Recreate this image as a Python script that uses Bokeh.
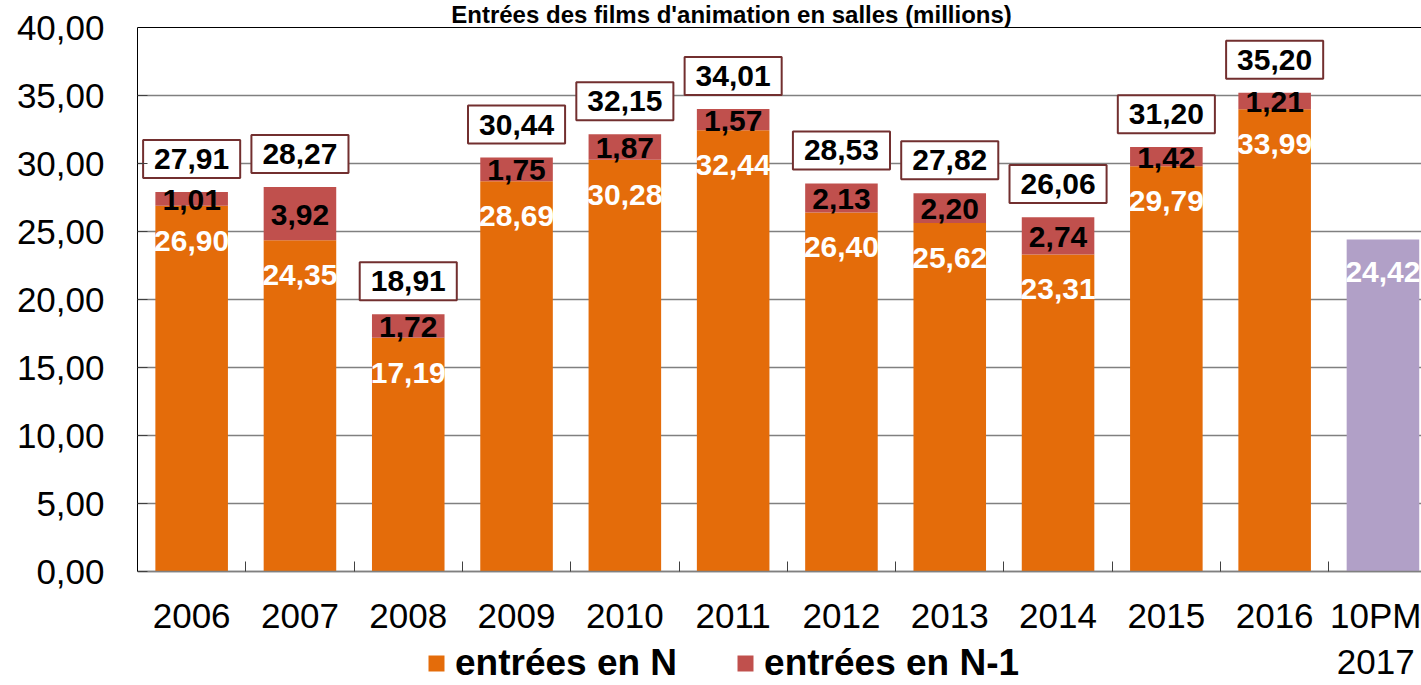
from bokeh.plotting import figure
from bokeh.models import (ColumnDataSource, Range1d, FixedTicker, CustomJSTickFormatter,
                          Label, Legend, LegendItem, Span)
from bokeh.embed import file_html
from bokeh.resources import INLINE
from bokeh.core.properties import value

# ---- data ----
categories = ["2006", "2007", "2008", "2009", "2010", "2011", "2012", "2013",
              "2014", "2015", "2016", "10PM\n2017"]
entrees_n = [26.90, 24.35, 17.19, 28.69, 30.28, 32.44, 26.40, 25.62, 23.31, 29.79, 33.99]
entrees_n1 = [1.01, 3.92, 1.72, 1.75, 1.87, 1.57, 2.13, 2.20, 2.74, 1.42, 1.21]
totals = [27.91, 28.27, 18.91, 30.44, 32.15, 34.01, 28.53, 27.82, 26.06, 31.20, 35.20]
partial_2017 = [24.42]
title_text = "Entrées des films d'animation en salles (millions)"
legend_labels = ["entrées en N", "entrées en N-1"]
y_ticks = [0, 5, 10, 15, 20, 25, 30, 35, 40]
y_max = 40

ORANGE = "#E46C0A"
RED = "#C0504D"
PURPLE = "#B1A0C7"
BOX = "#722F2F"
FONT = "Liberation Sans"

# layout (pixels)
W, H = 1421, 685
LEFT, TOP_GAP, BOTTOM_GAP = 137, 27, 114   # edges of the value area
CAT_PX = 108.3


def fr(v):
    return f"{v:.2f}".replace(".", ",")


n_cat = len(categories)
xs = [i + 0.5 for i in range(n_cat)]
full_x = xs[:len(entrees_n)]

src = ColumnDataSource(dict(
    x=full_x,
    n=entrees_n,
    n1=entrees_n1,
    tot=totals,
    mid=[a + b / 2 for a, b in zip(entrees_n, entrees_n1)],
    n_lab=[fr(v) for v in entrees_n],
    n1_lab=[fr(v) for v in entrees_n1],
    tot_lab=[fr(v) for v in totals],
))
src17 = ColumnDataSource(dict(x=xs[len(entrees_n):], v=partial_2017,
                              lab=[fr(v) for v in partial_2017]))

px_per_unit = (H - TOP_GAP - BOTTOM_GAP) / y_max
y_range = Range1d(-BOTTOM_GAP / px_per_unit, y_max + TOP_GAP / px_per_unit)
x_range = Range1d(0, (W - LEFT) / CAT_PX)

p = figure(width=W, height=H, output_backend="svg", toolbar_location=None, title=None,
           x_range=x_range, y_range=y_range,
           min_border_left=LEFT, min_border_top=0, min_border_right=0,
           min_border_bottom=0)
p.background_fill_color = "white"
p.border_fill_color = "white"
p.outline_line_color = None

# grid
p.xgrid.grid_line_color = None
p.ygrid.ticker = FixedTicker(ticks=y_ticks[:-1])
p.ygrid.grid_line_color = "#808080"
p.ygrid.grid_line_width = 1.5
p.add_layout(Span(location=y_max, dimension="width", line_color="black", line_width=1))

# y axis
p.yaxis.ticker = FixedTicker(ticks=y_ticks)
p.yaxis.bounds = (0, y_max)
p.yaxis.formatter = CustomJSTickFormatter(code="return tick.toFixed(2).replace('.', ',');")
p.yaxis.major_label_text_font = FONT
p.yaxis.major_label_text_font_size = "35px"
p.yaxis.major_label_text_color = "black"
p.yaxis.major_tick_in = 10
p.yaxis.major_tick_out = 0
p.yaxis.major_tick_line_color = "#404040"
p.yaxis.minor_tick_line_color = None
p.yaxis.major_label_standoff = 33
p.yaxis.axis_line_color = "black"

# x axis, drawn at value 0
p.xaxis.fixed_location = 0
p.xaxis.ticker = FixedTicker(ticks=xs, minor_ticks=list(range(1, n_cat)))
p.xaxis.major_label_overrides = {x: c for x, c in zip(xs, categories)}
p.xaxis.major_label_text_font = FONT
p.xaxis.major_label_text_font_size = "35px"
p.xaxis.major_label_text_color = "black"
p.xaxis.major_label_text_line_height = 1.2
p.xaxis.major_tick_line_color = None
p.xaxis.minor_tick_in = 10
p.xaxis.minor_tick_out = 0
p.xaxis.minor_tick_line_color = "#404040"
p.xaxis.major_label_standoff = 18
p.xaxis.axis_line_color = "#808080"
p.xaxis.axis_line_width = 1.5

# bars
rs = p.vbar_stack(["n", "n1"], x="x", width=0.67, source=src,
                  fill_color=[ORANGE, RED], line_color=None)
p.vbar(x="x", top="v", width=0.67, source=src17, fill_color=PURPLE, line_color=None)

# labels inside bars
p.text(x="x", y="n", text="n_lab", source=src, y_offset=35,
       text_align="center", text_baseline="middle",
       text_font=value(FONT), text_font_style="bold", text_font_size="30px",
       text_color="white")
p.text(x="x", y="v", text="lab", source=src17, y_offset=33,
       text_align="center", text_baseline="middle",
       text_font=value(FONT), text_font_style="bold", text_font_size="30px",
       text_color="white")
p.text(x="x", y="mid", text="n1_lab", source=src, y_offset=1,
       text_align="center", text_baseline="middle",
       text_font=value(FONT), text_font_style="bold", text_font_size="30px",
       text_color="black")
# total boxes
p.text(x="x", y="tot", text="tot_lab", source=src, y_offset=-33,
       text_align="center", text_baseline="middle",
       text_font=value(FONT), text_font_style="bold", text_font_size="30px",
       text_color="black", padding=dict(left=11, right=11, top=9, bottom=9),
       background_fill_color="white", border_line_color=BOX, border_line_width=2)

# title, kept fully visible in the top band
p.add_layout(Label(x=5.485, y=y_max, y_offset=13, text=title_text,
                   text_align="center", text_baseline="middle",
                   text_font=FONT, text_font_style="bold", text_font_size="24px",
                   text_color="black"))

legend = Legend(items=[LegendItem(label=legend_labels[0], renderers=[rs[0]]),
                       LegendItem(label=legend_labels[1], renderers=[rs[1]])],
                orientation="horizontal", location=(289, 1),
                glyph_width=20, glyph_height=20, label_standoff=9, spacing=58,
                padding=0, margin=0, border_line_color=None, background_fill_alpha=0,
                label_text_font=FONT, label_text_font_size="37px",
                label_text_font_style="bold", label_text_color="black")
p.add_layout(legend)

open("out.html", "w").write(file_html(p, INLINE))
